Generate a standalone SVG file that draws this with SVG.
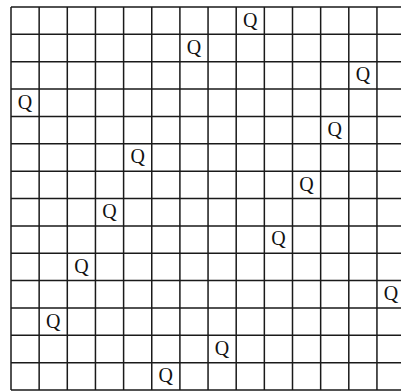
<svg xmlns="http://www.w3.org/2000/svg" width="401" height="391" viewBox="0 0 401 391">
<style>
.g{stroke:#1a1a1a;stroke-width:1.5;fill:none}
.q{font-family:"Liberation Serif","DejaVu Serif",serif;font-size:20px;fill:#111;text-anchor:middle}
</style>
<rect width="401" height="391" fill="#fff"/>
<g id="grid" class="g">
<path d="M11,7V390M39.15,7V390M67.3,7V390M95.45,7V390M123.6,7V390M151.75,7V390M179.9,7V390M208.05,7V390M236.2,7V390M264.35,7V390M292.5,7V390M320.65,7V390M348.8,7V390M376.95,7V390M405.1,7V390"/>
<path d="M11,7H406M11,34.36H406M11,61.72H406M11,89.08H406M11,116.44H406M11,143.8H406M11,171.16H406M11,198.52H406M11,225.88H406M11,253.24H406M11,280.6H406M11,307.96H406M11,335.32H406M11,362.68H406M11,390H406"/>
</g>
<g id="queens">
<g id="q0"><text class="q" x="250.3" y="26.5">Q</text></g>
<g id="q1"><text class="q" x="194" y="53.9">Q</text></g>
<g id="q2"><text class="q" x="362.9" y="81.2">Q</text></g>
<g id="q3"><text class="q" x="25.1" y="108.6">Q</text></g>
<g id="q4"><text class="q" x="334.7" y="135.9">Q</text></g>
<g id="q5"><text class="q" x="137.7" y="163.3">Q</text></g>
<g id="q6"><text class="q" x="306.6" y="190.7">Q</text></g>
<g id="q7"><text class="q" x="109.5" y="218">Q</text></g>
<g id="q8"><text class="q" x="278.4" y="245.4">Q</text></g>
<g id="q9"><text class="q" x="81.4" y="272.7">Q</text></g>
<g id="q10"><text class="q" x="391" y="300.1">Q</text></g>
<g id="q11"><text class="q" x="53.2" y="327.5">Q</text></g>
<g id="q12"><text class="q" x="222.1" y="354.8">Q</text></g>
<g id="q13"><text class="q" x="165.8" y="382.2">Q</text></g>
</g>
</svg>
